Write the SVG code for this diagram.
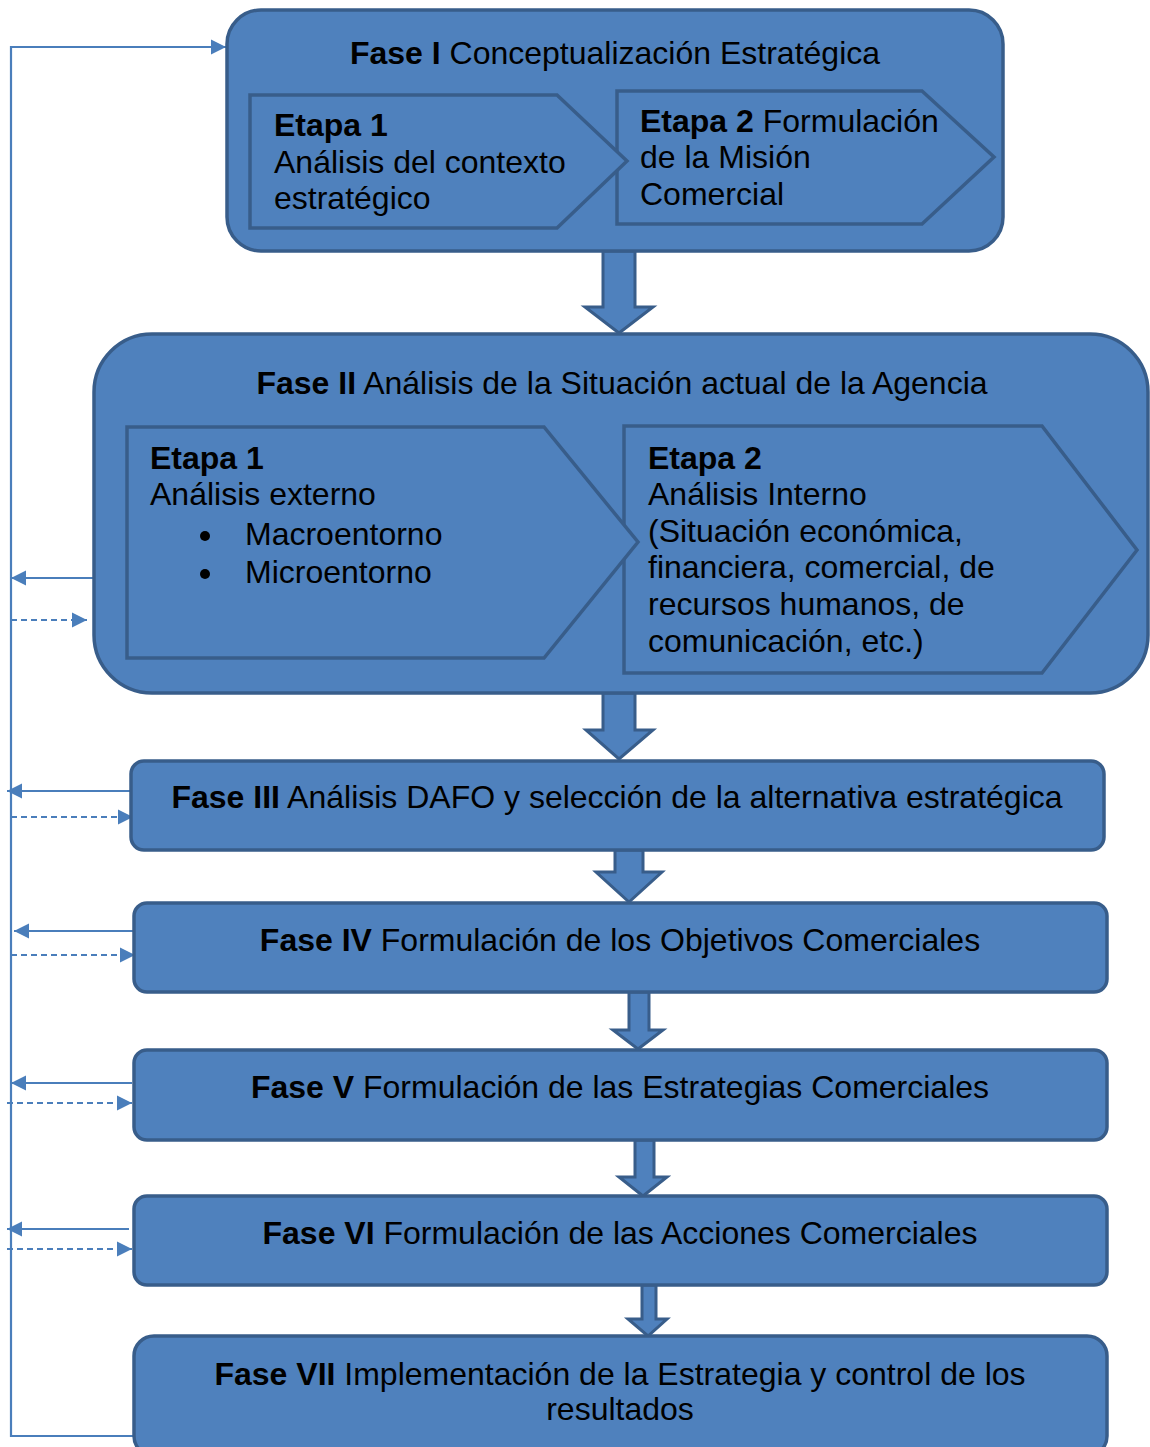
<svg xmlns="http://www.w3.org/2000/svg" width="1150" height="1447" viewBox="0 0 1150 1447">
<defs>
<style>
.box{fill:#4F81BD;stroke:#385D8A;stroke-width:3.5}
.chev{fill:#4F81BD;stroke:#385D8A;stroke-width:3.5}
.barr{fill:#4F81BD;stroke:#385D8A;stroke-width:3}
.ln{fill:none;stroke:#4A7EBB;stroke-width:2.2}
.dash{fill:none;stroke:#4A7EBB;stroke-width:2.2;stroke-dasharray:6,4}
text{font-family:"Liberation Sans",Arial,sans-serif;font-size:32px;fill:#000}
.b{font-weight:bold}
.c{text-anchor:middle}
</style>
<marker id="ah" viewBox="0 0 10 10" refX="10" refY="5" markerWidth="7" markerHeight="7" markerUnits="strokeWidth" orient="auto">
<path d="M0,0 L10,5 L0,10 z" fill="#4A7EBB"/>
</marker>
</defs>

<g id="connectors">
<polyline class="ln" points="133,1436 11,1436 11,47 226,47" marker-end="url(#ah)"/>
<line class="ln" x1="94" y1="578" x2="11" y2="578" marker-end="url(#ah)"/>
<line class="dash" x1="11" y1="620" x2="87" y2="620" marker-end="url(#ah)"/>
<line class="ln" x1="130" y1="791" x2="7" y2="791" marker-end="url(#ah)"/>
<line class="dash" x1="11" y1="817" x2="133" y2="817" marker-end="url(#ah)"/>
<line class="ln" x1="134" y1="931" x2="14" y2="931" marker-end="url(#ah)"/>
<line class="dash" x1="11" y1="955" x2="135" y2="955" marker-end="url(#ah)"/>
<line class="ln" x1="132" y1="1083" x2="11" y2="1083" marker-end="url(#ah)"/>
<line class="dash" x1="7" y1="1103" x2="132" y2="1103" marker-end="url(#ah)"/>
<line class="ln" x1="129" y1="1229" x2="7" y2="1229" marker-end="url(#ah)"/>
<line class="dash" x1="7" y1="1249" x2="132" y2="1249" marker-end="url(#ah)"/>
<path class="barr" d="M603,251 L635,251 L635,307 L653,307 L619,333 L585,307 L603,307 Z"/>
<path class="barr" d="M603,693 L635,693 L635,730 L653,730 L619,759 L586,730 L603,730 Z"/>
<path class="barr" d="M615,850 L643,850 L643,872 L662,872 L629,902 L596,872 L615,872 Z"/>
<path class="barr" d="M629,992 L649,992 L649,1030 L663,1030 L638,1049 L613,1030 L629,1030 Z"/>
<path class="barr" d="M635,1140 L654,1140 L654,1177 L667,1177 L643,1196 L619,1177 L635,1177 Z"/>
<path class="barr" d="M642,1285 L656,1285 L656,1319 L667,1319 L648,1336 L628,1319 L642,1319 Z"/>
</g>

<g id="fase1">
<rect class="box" x="227" y="10" width="776" height="241" rx="34"/>
<text class="c" x="615" y="64"><tspan class="b">Fase I</tspan> Conceptualización Estratégica</text>
</g>
<g id="fase1-etapa2">
<polygon class="chev" points="617,91 922,91 994,157 922,224 617,224"/>
<text x="640" y="132"><tspan class="b">Etapa 2</tspan> Formulación</text>
<text x="640" y="168">de la Misión</text>
<text x="640" y="205">Comercial</text>
</g>
<g id="fase1-etapa1">
<polygon class="chev" points="250,95 557,95 627,161 557,228 250,228"/>
<text x="274" y="136" class="b">Etapa 1</text>
<text x="274" y="173">Análisis del contexto</text>
<text x="274" y="209">estratégico</text>
</g>

<g id="fase2">
<rect class="box" x="94" y="334" width="1054" height="359" rx="58"/>
<text class="c" x="622" y="394"><tspan class="b">Fase II</tspan> Análisis de la Situación actual de la Agencia</text>
</g>
<g id="fase2-etapa2">
<polygon class="chev" points="624,426 1042,426 1137,550 1042,673 624,673"/>
<text x="648" y="469" class="b">Etapa 2</text>
<text x="648" y="505">Análisis Interno</text>
<text x="648" y="542">(Situación económica,</text>
<text x="648" y="578">financiera, comercial, de</text>
<text x="648" y="615">recursos humanos, de</text>
<text x="648" y="652">comunicación, etc.)</text>
</g>
<g id="fase2-etapa1">
<polygon class="chev" points="127,427 544,427 638,542 544,658 127,658"/>
<text x="150" y="469" class="b">Etapa 1</text>
<text x="150" y="505">Análisis externo</text>
<circle cx="205" cy="536" r="5" fill="#000"/>
<text x="245" y="545">Macroentorno</text>
<circle cx="205" cy="574" r="5" fill="#000"/>
<text x="245" y="583">Microentorno</text>
</g>

<g id="fase3">
<rect class="box" x="131" y="761" width="973" height="89" rx="13"/>
<text class="c" x="617" y="808"><tspan class="b">Fase III</tspan> Análisis DAFO y selección de la alternativa estratégica</text>
</g>
<g id="fase4">
<rect class="box" x="134" y="903" width="973" height="89" rx="13"/>
<text class="c" x="620" y="951"><tspan class="b">Fase IV</tspan> Formulación de los Objetivos Comerciales</text>
</g>
<g id="fase5">
<rect class="box" x="134" y="1050" width="973" height="90" rx="13"/>
<text class="c" x="620" y="1098"><tspan class="b">Fase V</tspan> Formulación de las Estrategias Comerciales</text>
</g>
<g id="fase6">
<rect class="box" x="134" y="1196" width="973" height="89" rx="13"/>
<text class="c" x="620" y="1244"><tspan class="b">Fase VI</tspan> Formulación de las Acciones Comerciales</text>
</g>
<g id="fase7">
<rect class="box" x="134" y="1336" width="973" height="120" rx="20"/>
<text class="c" x="620" y="1385"><tspan class="b">Fase VII</tspan> Implementación de la Estrategia y control de los</text>
<text class="c" x="620" y="1420">resultados</text>
</g>
</svg>
